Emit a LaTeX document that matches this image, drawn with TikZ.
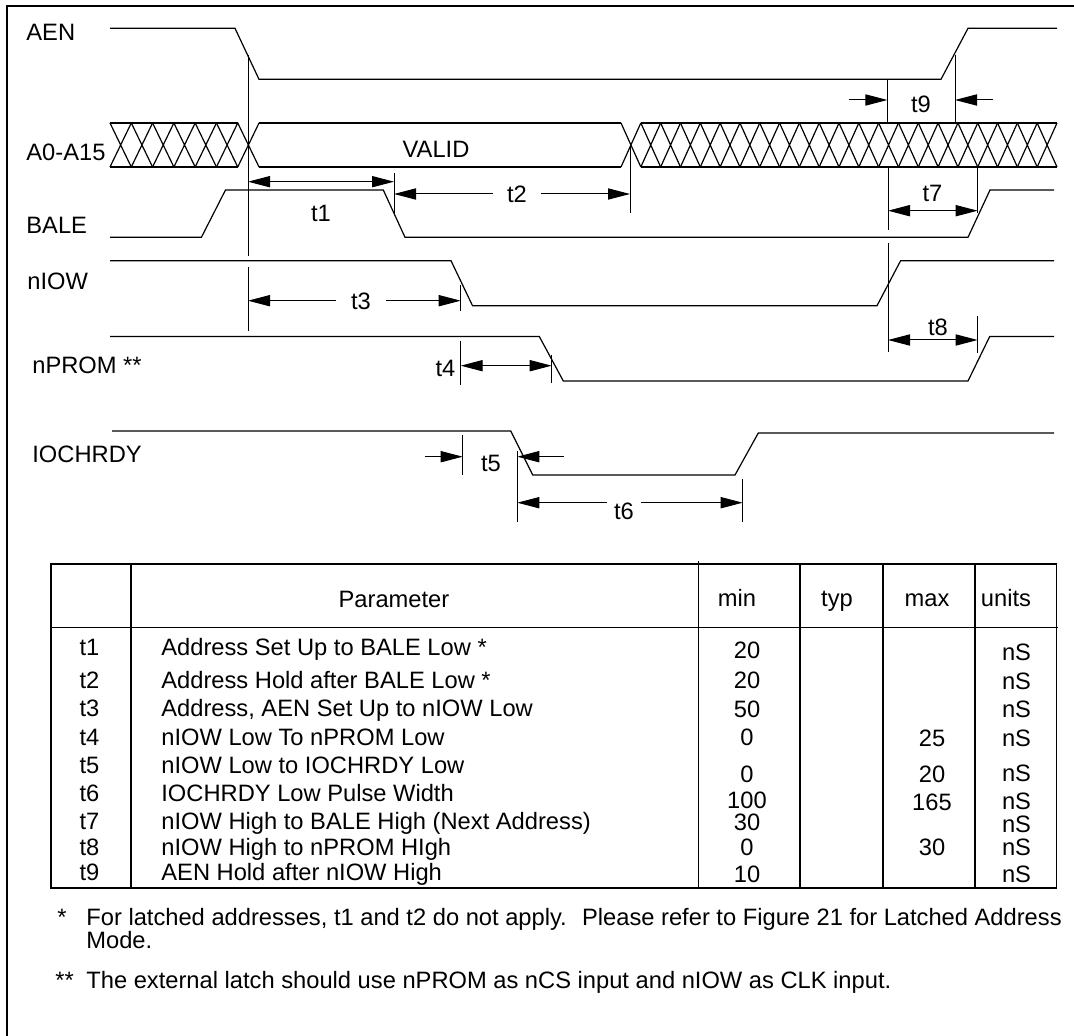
\documentclass[tikz,border=0pt]{standalone}
\usepackage{fontspec}
\setmainfont{Liberation Sans}
\usetikzlibrary{arrows.meta}
\newcommand{\sigfont}{\fontsize{11.85pt}{14pt}\selectfont}
\tikzset{
  sig/.style={line width=0.6pt},
  guide/.style={line width=0.5pt},
  grid/.style={line width=0.75pt},
  dimarr/.style={line width=0.5pt, {Triangle[length=11pt,width=5.6pt]}-{Triangle[length=11pt,width=5.6pt]}},
  onearr/.style={line width=0.5pt, -{Triangle[length=11pt,width=5.6pt]}},
  lbl/.style={font=\sigfont, inner sep=0pt, anchor=base west},
  txt/.style={font=\sigfont, inner sep=0pt, anchor=base},
  gaplbl/.style={font=\sigfont, inner ysep=0pt, inner xsep=#1},
}
\begin{document}
\begin{tikzpicture}[x=0.5pt,y=-0.5pt]
        \useasboundingbox (0,0) rectangle (1074,1036);
        \draw[line width=1.2pt] (7,1036) -- (7,6) -- (1074,6);

        \node[lbl] (aen) at (26,41) {AEN};
        \node[lbl] (addr) at (26,161) {A0-A15};
        \node[lbl] (bale) at (26,234) {BALE};
        \node[lbl] (niow) at (27,290) {nIOW};
        \node[lbl] (nprom) at (32,373.5) {nPROM **};
        \node[lbl] (iochrdy) at (32,463) {IOCHRDY};

        \draw[sig] (110,28.3) -- (235,28.3) -- (259,79.3) -- (941,79.3) -- (968,28.3) -- (1057,28.3);
        \draw[sig] (110,123) -- (238,123) (110,167) -- (238,167);
        \draw[sig] (259,123) -- (621,123) (259,167) -- (621,167);
        \draw[sig] (641,123) -- (1057,123) (641,167) -- (1057,167);
        \foreach \i in {0,...,6}
            \draw[sig] ({110+21.29*\i},123) -- ({110+21.29*(\i+1)},167)
                       ({110+21.29*\i},167) -- ({110+21.29*(\i+1)},123);
        \foreach \i in {0,...,21}
            \draw[sig] ({621+19.818*\i},123) -- ({621+19.818*(\i+1)},167)
                       ({621+19.818*\i},167) -- ({621+19.818*(\i+1)},123);
        \node[txt] (valid) at (436,157.5) {VALID};
        \draw[sig] (110,237.3) -- (201.4,237.3) -- (225.5,190) -- (383.3,190) -- (405,237.3) -- (968,237.3) -- (990,190) -- (1054,190);
        \draw[sig] (110,260.7) -- (451,260.7) -- (472.5,305.7) -- (877,305.7) -- (900.6,260.7) -- (1054,260.7);
        \draw[sig] (110,336.5) -- (539.3,336.5) -- (563.3,381) -- (968,381) -- (989.7,336.5) -- (1054,336.5);
        \draw[sig] (112,431) -- (510.7,431) -- (532.7,475) -- (735,475) -- (758.3,433) -- (1054,433);

        \draw[guide] (248,55) -- (248,256) (248,267) -- (248,331);
        \draw[guide] (394,173) -- (394,213);
        \draw[guide] (630,145) -- (630,213);
        \draw[guide] (460.7,285) -- (460.7,311) (460.7,341) -- (460.7,385);
        \draw[guide] (551.7,355) -- (551.7,383);
        \draw[guide] (462.7,435) -- (462.7,475);
        \draw[guide] (517.3,451) -- (517.3,522);
        \draw[guide] (742.7,479) -- (742.7,522);
        \draw[guide] (887.4,79) -- (887.4,123) (955,55) -- (955,123);
        \draw[guide] (888,167) -- (888,230) (888,243) -- (888,352);
        \draw[guide] (977.6,167) -- (977.6,213) (977.6,316) -- (977.6,353);

        \coordinate (t1a) at (248,181.7);
        \coordinate (t1b) at (394,181.7);
        \draw[dimarr] (t1a) -- (t1b);
        \node[txt] (t1) at (321,221.5) {t1};

        \coordinate (t2a) at (394,194);
        \coordinate (t2b) at (630,194);
        \node[gaplbl=7pt] (t2) at (517,194) {t2};
        \draw[onearr] (t2a -| t2.west) -- (t2a);
        \draw[onearr] (t2b -| t2.east) -- (t2b);

        \coordinate (t3a) at (248,300.7);
        \coordinate (t3b) at (460.7,300.7);
        \node[gaplbl=7.5pt] (t3) at (361,301.5) {t3};
        \draw[onearr] (t3a -| t3.west) -- (t3a);
        \draw[onearr] (t3b -| t3.east) -- (t3b);

        \coordinate (t4a) at (460.7,365.7);
        \coordinate (t4b) at (551.7,365.7);
        \draw[dimarr] (t4a) -- (t4b);
        \node[txt] (t4) at (445.5,377) {t4};

        \coordinate (t5a) at (462.7,456.7);
        \coordinate (t5b) at (517.3,456.7);
        \coordinate (t5c) at (425,456.7);
        \coordinate (t5d) at (563.5,456.7);
        \draw[onearr] (t5c) -- (t5a);
        \draw[onearr] (t5d) -- (t5b);
        \node[txt] (t5) at (491,472) {t5};

        \coordinate (t6a) at (517.3,502.7);
        \coordinate (t6b) at (742.7,502.7);
        \node[gaplbl=3.5pt] (t6) at (624,511) {t6};
        \draw[onearr] (t6a -| t6.west) -- (t6a);
        \draw[onearr] (t6b -| t6.east) -- (t6b);

        \coordinate (t7a) at (888,210.7);
        \coordinate (t7b) at (977.6,210.7);
        \draw[dimarr] (t7a) -- (t7b);
        \node[txt] (t7) at (932.5,202) {t7};

        \coordinate (t8a) at (888,340);
        \coordinate (t8b) at (977.6,340);
        \draw[dimarr] (t8a) -- (t8b);
        \node[txt] (t8) at (938,336) {t8};

        \coordinate (t9a) at (887.4,100);
        \coordinate (t9b) at (955,100);
        \coordinate (t9c) at (849,100);
        \coordinate (t9d) at (993,100);
        \draw[onearr] (t9c) -- (t9a);
        \draw[onearr] (t9d) -- (t9b);
        \node[txt] (t9) at (921,113) {t9};

        \draw[grid] (51,564) rectangle (1056.4,888.3);
        \draw[grid] (51,627.3) -- (1058,627.3);
        \foreach \x in {131,800,883,975.2}
            \draw[grid] (\x,564) -- (\x,888.3);
        \draw[grid] (698.3,561) -- (698.3,888.3);
        \draw[line width=1.1pt] (51,888.3) -- (1056.4,888.3);

        \node[txt] (hpar) at (394,607.5) {Parameter};
        \node[txt] (hmin) at (737,606) {min};
        \node[txt] (htyp) at (837,606) {typ};
        \node[txt] (hmax) at (927,606) {max};
        \node[txt] (hunit) at (1006,606) {units};

        \foreach \n/\yb/\p in {1/655.2/{Address Set Up to BALE Low *},
                               2/688.5/{Address Hold after BALE Low *},
                               3/716.8/{Address, AEN Set Up to nIOW Low},
                               4/745.2/{nIOW Low To nPROM Low},
                               5/773.5/{nIOW Low to IOCHRDY Low},
                               6/801.8/{IOCHRDY Low Pulse Width},
                               7/829/{nIOW High to BALE High (Next Address)},
                               8/855/{nIOW High to nPROM HIgh},
                               9/880/{AEN Hold after nIOW High}} {
            \node[txt] (tl\n) at (89.5,\yb) {t\n};
            \node[lbl] (par\n) at (161,\yb) {\p};
        }
        \foreach \n/\yb/\v in {1/658.5/20, 2/688.5/20, 3/717.5/50, 4/745.5/0, 5/782.5/0,
                               6/808/100, 7/830.5/30, 8/855/0, 9/882/10}
            \node[txt] (min\n) at (747,\yb) {\v};
        \foreach \n/\yb/\v in {4/746.8/25, 5/782.5/20, 6/810/165, 8/855/30}
            \node[txt] (max\n) at (932,\yb) {\v};
        \foreach \n/\yb in {1/660, 2/689, 3/717.8, 4/746.8, 5/781.8, 6/809, 7/832, 8/855.5, 9/882}
            \node[txt] (unit\n) at (1016.5,\yb) {nS};

        \node[lbl] (star1) at (57,925) {*};
        \node[lbl] (note1) at (86,925) {For latched addresses, t1 and t2 do not apply.~ Please refer to Figure 21 for Latched Address};
        \node[lbl] (note1b) at (86,948.5) {Mode.};
        \node[lbl] (star2) at (55,988) {**};
        \node[lbl] (note2) at (86,988) {The external latch should use nPROM as nCS input and nIOW as CLK input.};
    \end{tikzpicture}
\end{document}
